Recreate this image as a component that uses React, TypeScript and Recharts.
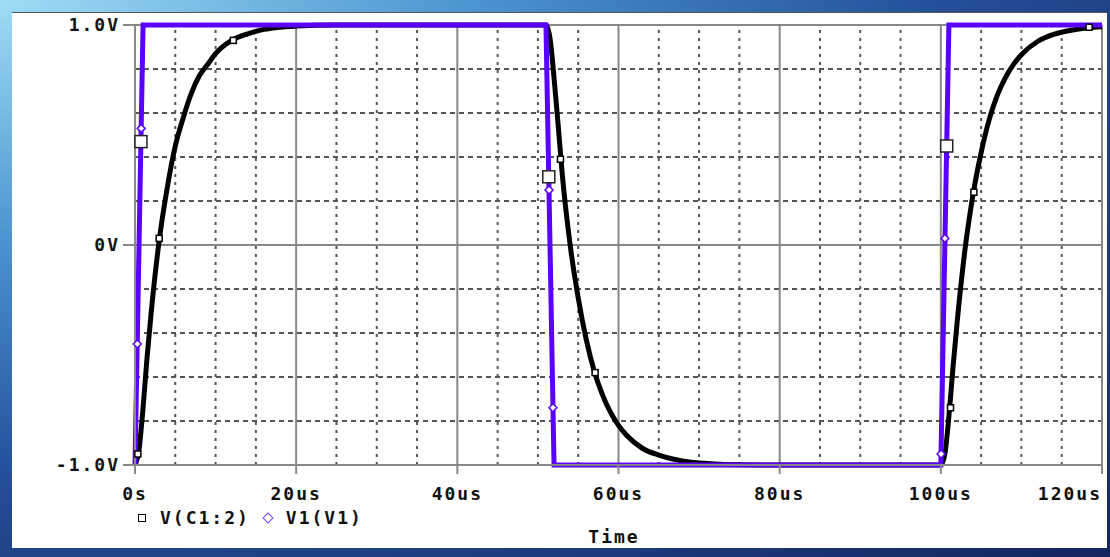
import React from 'react';
import { ComposedChart, Line, Scatter, XAxis, YAxis, ReferenceLine } from 'recharts';

// V1(V1) pulse source (time in us, volts)
const srcTimes = [0, 1, 51, 52, 100, 101, 120];
const srcValues = [-1, 1, 1, -1, -1, 1, 1];

// V(C1:2) capacitor voltage
const capTimes = [
  0, 0.5, 1, 1.5, 2, 3, 4, 5, 6, 7, 8, 9, 10, 12, 14, 16, 18, 20, 25, 30, 40,
  51, 51.5, 52, 52.5, 53, 54, 55, 56, 57, 58, 59, 60, 61, 63, 65, 67, 69, 71, 75, 80, 90,
  100, 100.5, 101, 101.5, 102, 103, 104, 105, 106, 107, 108, 109, 110, 112, 114, 116, 118, 120,
];
const capValues = [
  -1, -0.93, -0.74, -0.51, -0.31, 0.02, 0.26, 0.45, 0.58, 0.69, 0.77, 0.82, 0.87, 0.93, 0.96, 0.98, 0.99, 0.995, 1, 1, 1,
  1, 0.94, 0.76, 0.55, 0.33, 0.0, -0.24, -0.43, -0.575, -0.68, -0.76, -0.82, -0.865, -0.925, -0.955, -0.975, -0.987, -0.993, -0.999, -1, -1,
  -1, -0.95, -0.78, -0.56, -0.36, -0.02, 0.23, 0.42, 0.57, 0.68, 0.76, 0.82, 0.865, 0.925, 0.957, 0.975, 0.986, 0.992,
];

// trace symbols as they sit on the plot
const capMarkTimes = [0.35, 3.0, 12.2, 52.8, 57.1, 101.2, 104.1, 118.4];
const capMarkValues = [-0.95, 0.03, 0.93, 0.39, -0.58, -0.74, 0.24, 0.99];
const bigMarkTimes = [0.74, 51.35, 100.73];
const bigMarkValues = [0.47, 0.31, 0.45];
const srcMarkTimes = [0.28, 0.77, 51.38, 51.87, 100.03, 100.5];
const srcMarkValues = [-0.45, 0.53, 0.25, -0.74, -0.95, 0.03];

const timeTicks = [0, 20, 40, 60, 80, 100, 120];
const timeLabels = ['0s', '20us', '40us', '60us', '80us', '100us', '120us'];
const timeMajorGrid = [20, 40, 60, 80, 100, 120];
const timeMinorGrid = [5, 10, 15, 25, 30, 35, 45, 50, 55, 65, 70, 75, 85, 90, 95, 105, 110, 115];
const voltTicks = [-1, 0, 1];
const voltLabels = ['-1.0V', '0V', '1.0V'];
const voltMinorGrid = [-0.8, -0.6, -0.4, -0.2, 0.2, 0.4, 0.6, 0.8];

const PURPLE = '#5a00ff';
const FONT = '"DejaVu Sans Mono", "Liberation Mono", monospace';

const zip = (ts: number[], vs: number[]) => ts.map((t, i) => ({ t, v: vs[i] }));

const srcData = zip(srcTimes, srcValues);
const capData = zip(capTimes, capValues);
const capMarks = zip(capMarkTimes, capMarkValues);
const bigMarks = zip(bigMarkTimes, bigMarkValues);
const srcMarks = zip(srcMarkTimes, srcMarkValues);

const textStyle = {
  fontFamily: FONT,
  fontSize: 18,
  fontWeight: 700,
  letterSpacing: 2,
  fill: '#111',
};

const TimeTick = (props: any) => {
  const { x, y, payload } = props;
  const i = timeTicks.indexOf(payload.value);
  const last = i === timeTicks.length - 1;
  return (
    <text x={x} y={y} dy="0.71em" textAnchor={last ? 'end' : 'middle'} {...textStyle}>
      {timeLabels[i]}
    </text>
  );
};

const SmallSquare = (props: any) => {
  const { cx, cy } = props;
  return <rect x={cx - 3} y={cy - 3} width={6} height={6} fill="#fff" stroke="#000" strokeWidth={1.5} />;
};

const BigSquare = (props: any) => {
  const { cx, cy } = props;
  return <rect x={cx - 6} y={cy - 6} width={12} height={12} fill="#fff" stroke="#222" strokeWidth={1.5} />;
};

const Diamond = (props: any) => {
  const { cx, cy } = props;
  return (
    <path
      d={`M${cx},${cy - 4}L${cx + 4},${cy}L${cx},${cy + 4}L${cx - 4},${cy}Z`}
      fill="#fff"
      stroke={PURPLE}
      strokeWidth={1.5}
    />
  );
};

const App: React.FC = () => {
  return (
    <div
      style={{
        position: 'absolute',
        left: 0,
        top: 0,
        width: 1110,
        height: 557,
        background:
          'radial-gradient(ellipse at 0% 0%, #9fdcf5 0%, #4b95d0 30%, #244f98 60%, #14245f 100%)',
        fontFamily: FONT,
      }}
    >
      <div
        style={{
          position: 'absolute',
          left: 12,
          top: 12,
          width: 1095,
          height: 536,
          background: '#fff',
          borderTop: '1px solid #555',
          boxSizing: 'border-box',
        }}
      />
      <div style={{ position: 'absolute', left: 0, top: 0 }}>
        <ComposedChart width={1110} height={557} margin={{ top: 25, right: 8, left: 0, bottom: 62 }}>
          <XAxis
            dataKey="t"
            type="number"
            domain={[0, 120]}
            ticks={timeTicks}
            interval={0}
            height={30}
            tickSize={9}
            tickMargin={13}
            tick={<TimeTick />}
            stroke="#888"
            strokeWidth={2}
          />
          <YAxis
            type="number"
            domain={[-1, 1]}
            ticks={voltTicks}
            interval={0}
            width={135}
            tickSize={12}
            tickMargin={3}
            tickFormatter={(v: number) => voltLabels[voltTicks.indexOf(v)]}
            tick={textStyle}
            stroke="#888"
            strokeWidth={2}
          />
          {voltMinorGrid.map((v) => (
            <ReferenceLine key={'h' + v} y={v} stroke="#555" strokeWidth={2} strokeDasharray="5 4" />
          ))}
          {timeMinorGrid.map((t) => (
            <ReferenceLine key={'m' + t} x={t} stroke="#555" strokeWidth={2} strokeDasharray="3 5" />
          ))}
          {timeMajorGrid.map((t) => (
            <ReferenceLine key={'M' + t} x={t} stroke="#888" strokeWidth={2} />
          ))}
          <ReferenceLine y={0} stroke="#888" strokeWidth={2} />
          <ReferenceLine y={1} stroke="#888" strokeWidth={2} />
          <Line
            data={capData}
            dataKey="v"
            type="monotone"
            stroke="#000"
            strokeWidth={5}
            dot={false}
            activeDot={false}
            isAnimationActive={false}
          />
          <Line
            data={srcData}
            dataKey="v"
            type="linear"
            stroke={PURPLE}
            strokeWidth={5}
            dot={false}
            activeDot={false}
            isAnimationActive={false}
          />
          <Scatter data={srcMarks} dataKey="v" shape={<Diamond />} isAnimationActive={false} />
          <Scatter data={capMarks} dataKey="v" shape={<SmallSquare />} isAnimationActive={false} />
          <Scatter data={bigMarks} dataKey="v" shape={<BigSquare />} isAnimationActive={false} />
        </ComposedChart>
      </div>
      {/* legend */}
      <div
        style={{
          position: 'absolute',
          left: 138,
          top: 507,
          display: 'flex',
          alignItems: 'center',
          fontSize: 18,
          fontWeight: 700,
          letterSpacing: 2,
          color: '#111',
          lineHeight: '22px',
        }}
      >
        <span style={{ width: 6, height: 6, border: '1.5px solid #000', marginRight: 14 }} />
        <span>V(C1:2)</span>
        <span
          style={{
            width: 6,
            height: 6,
            border: '1.5px solid #7a40ff',
            transform: 'rotate(45deg)',
            marginLeft: 14,
            marginRight: 14,
          }}
        />
        <span>V1(V1)</span>
      </div>
      <div
        style={{
          position: 'absolute',
          left: 564,
          width: 100,
          top: 526,
          textAlign: 'center',
          fontSize: 18,
          fontWeight: 700,
          letterSpacing: 2,
          color: '#111',
          lineHeight: '22px',
        }}
      >
        Time
      </div>
    </div>
  );
};

export default App;
